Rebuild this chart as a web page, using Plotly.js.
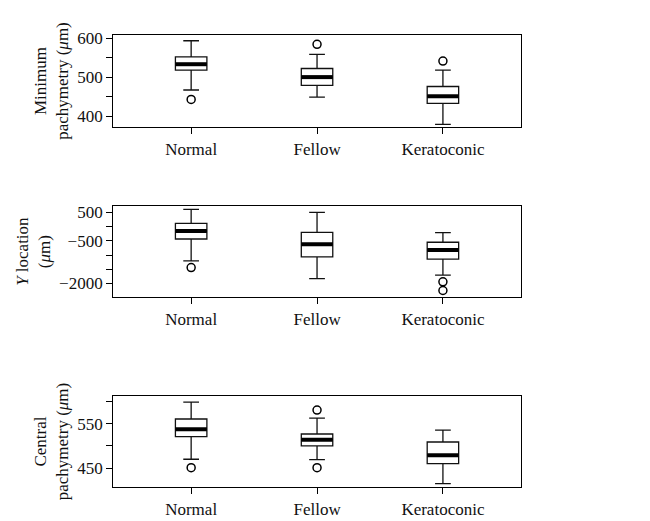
<!DOCTYPE html>
<html>
<head>
<meta charset="utf-8">
<script src="https://cdn.plot.ly/plotly-3.0.1.min.js"></script>
<style>body{margin:0;background:#fff}#chart{width:650px;height:521px}</style>
</head>
<body>
<div id="chart"></div>
<script>
// Групи
const groups = ["Normal", "Fellow", "Keratoconic"];

// Мінімальна пахіметрія
const minLow = [467, 449, 379];
const minQ1 = [518, 479, 433];
const minMed = [533, 500, 451];
const minQ3 = [552, 522, 476];
const minHigh = [593, 558, 518];
const minOut = [[443], [584], [541]];

// Y location
const yLow = [-1205, -1825, -1705];
const yQ1 = [-435, -1065, -1145];
const yMed = [-155, -620, -820];
const yQ3 = [115, -200, -550];
const yHigh = [605, 500, -215];
const yOut = [[-1440], [], [-1940, -2245]];

// Центральна пахіметрія
const cenLow = [470, 469, 415];
const cenQ1 = [521, 500, 460];
const cenMed = [538, 514, 479];
const cenQ3 = [561, 527, 509];
const cenHigh = [599, 563, 536];
const cenOut = [[451], [581, 451], []];

const font = "Liberation Serif, Times New Roman, serif";
const boxW = 0.25;
const pos = groups.map((_, i) => i);

let traces = [];

// Додаємо одну панель з коробками, медіанами та викидами.
function addPanel(n, low, q1, med, q3, high, out) {
    const xa = n === 1 ? "x" : "x" + n;
    const ya = n === 1 ? "y" : "y" + n;
    traces.push({
        type: "box", x: pos, lowerfence: low, q1: q1, median: med, q3: q3,
        upperfence: high, width: boxW, whiskerwidth: 0.5,
        line: {color: "#111", width: 1.3}, fillcolor: "#fff",
        boxpoints: false, xaxis: xa, yaxis: ya, hoverinfo: "skip",
    });
    // Товста лінія медіани
    let mx = [], my = [];
    med.forEach((m, i) => {
        mx.push(i - boxW / 2, i + boxW / 2, null);
        my.push(m, m, null);
    });
    traces.push({
        type: "scatter", mode: "lines", x: mx, y: my,
        line: {color: "#000", width: 4}, xaxis: xa, yaxis: ya,
    });
    // Викиди
    let ox = [], oy = [];
    out.forEach((arr, i) => arr.forEach((v) => { ox.push(i); oy.push(v); }));
    traces.push({
        type: "scatter", mode: "markers", x: ox, y: oy,
        marker: {symbol: "circle-open", size: 8, color: "#000", line: {width: 1.5}},
        xaxis: xa, yaxis: ya,
    });
}

addPanel(1, minLow, minQ1, minMed, minQ3, minHigh, minOut);
addPanel(2, yLow, yQ1, yMed, yQ3, yHigh, yOut);
addPanel(3, cenLow, cenQ1, cenMed, cenQ3, cenHigh, cenOut);

function xaxis(anchor) {
    return {
        domain: [0.174, 0.8015], range: [-0.62, 2.62], anchor: anchor,
        tickvals: pos, ticktext: groups, ticks: "outside", ticklen: 6,
        tickcolor: "#000", showgrid: false, zeroline: false,
        showline: true, mirror: true, linecolor: "#000", linewidth: 1,
        tickfont: {family: font, size: 17, color: "#111"},
    };
}
function yaxis(anchor, domain, range, vals, labels, title) {
    return {
        domain: domain, range: range, anchor: anchor,
        tickvals: vals, ticktext: labels, ticks: "outside", ticklen: 6,
        tickcolor: "#000", showgrid: false, zeroline: false,
        showline: true, mirror: true, linecolor: "#000", linewidth: 1,
        tickfont: {family: font, size: 17, color: "#111"},
        title: {text: title, font: {family: font, size: 17, color: "#111"}, standoff: 4},
    };
}

const layout = {
    width: 650, height: 521, showlegend: false,
    margin: {l: 0, r: 0, t: 0, b: 0},
    paper_bgcolor: "#fff", plot_bgcolor: "#fff",
    xaxis: xaxis("y"),
    xaxis2: xaxis("y2"),
    xaxis3: xaxis("y3"),
    yaxis: yaxis("x", [0.756, 0.933], [372, 608],
        [400, 450, 500, 550, 600], ["400", "", "500", "", "600"],
        "Minimum<br>pachymetry (<i>μ</i>m)"),
    yaxis2: yaxis("x2", [0.429, 0.605], [-2490, 730],
        [500, 0, -500, -1000, -1500, -2000], ["500", "", "\u2212500", "", "", "\u22122000"],
        "<i>Y</i> location<br>(<i>μ</i>m)"),
    yaxis3: yaxis("x3", [0.065, 0.24], [407, 613],
        [450, 500, 550, 600], ["450", "", "550", ""],
        "Central<br>pachymetry (<i>μ</i>m)"),
};

Plotly.newPlot("chart", traces, layout, {displayModeBar: false, staticPlot: true});
</script>
</body>
</html>
